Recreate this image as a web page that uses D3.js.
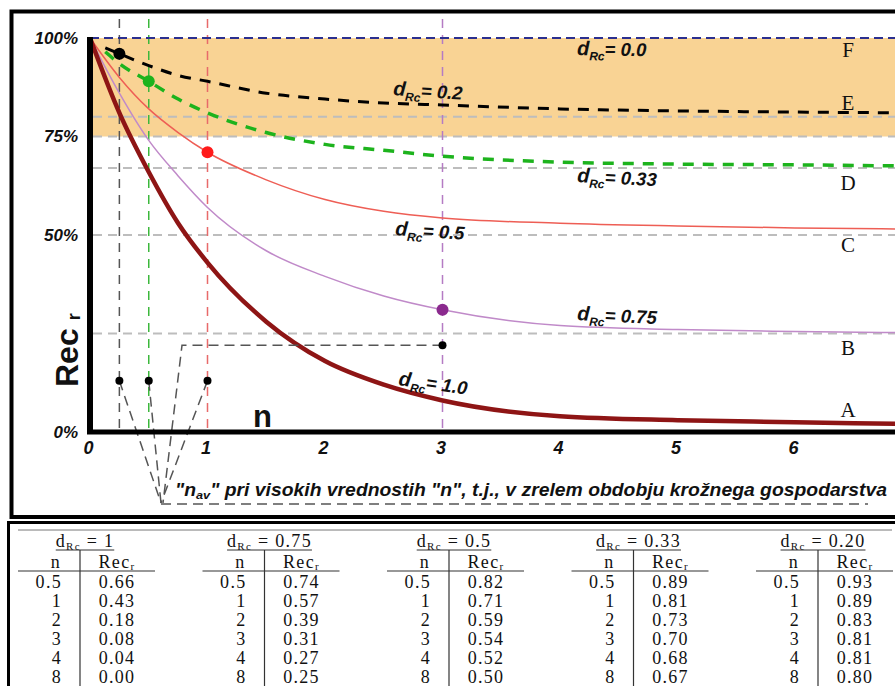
<!DOCTYPE html>
<html>
<head>
<meta charset="utf-8">
<script src="https://cdn.jsdelivr.net/npm/d3@7"></script>
<style>
  html, body { margin: 0; padding: 0; background: #fff; }
  svg { display: block; }
</style>
</head>
<body>
<script>
const WIDTH = 895;
const HEIGHT = 686;

// curves
const nSolid = [0, 0.25, 0.5, 0.75, 1, 1.5, 2, 2.5, 3, 4, 5, 6, 7];
const recD100 = [1.00, 0.81, 0.66, 0.53, 0.43, 0.28, 0.18, 0.12, 0.08, 0.04, 0.03, 0.025, 0.02];
const recD075 = [1.00, 0.86, 0.74, 0.65, 0.57, 0.46, 0.395, 0.345, 0.31, 0.27, 0.26, 0.255, 0.252];
const recD050 = [1.00, 0.90, 0.82, 0.76, 0.71, 0.64, 0.59, 0.56, 0.543, 0.53, 0.523, 0.518, 0.515];
const nDashed = [0.13, 0.25, 0.5, 0.75, 1, 1.5, 2, 2.5, 3, 4, 5, 6, 7];
const recD033 = [0.965, 0.935, 0.89, 0.845, 0.81, 0.76, 0.73, 0.715, 0.70, 0.685, 0.68, 0.678, 0.675];
const recD020 = [0.975, 0.96, 0.93, 0.905, 0.89, 0.86, 0.845, 0.835, 0.83, 0.82, 0.815, 0.812, 0.81];

// reference levels A..F
const levelNames = ["F", "E", "D", "C", "B", "A"];
const levelValues = [1.0, 0.80, 0.67, 0.50, 0.25, 0.0];
const grayLevels = [0.80, 0.75, 0.67, 0.50, 0.25];

// marked points
const markN = [0.25, 0.5, 1, 3];
const markRec = [0.96, 0.89, 0.71, 0.31];
const markColors = ["#000000", "#1db31d", "#ff1a1a", "#8b2a8e"];
const guideColors = ["#555555", "#3cb83c", "#e86a6a", "#b57bc4"];
const navN = [0.25, 0.5, 1];
const navRec = 0.13;
const highN = 3;
const highRec = 0.22;

// table
const tableD = ["1", "0.75", "0.5", "0.33", "0.20"];
const tableN = ["0.5", "1", "2", "3", "4", "8"];
const tableRec = [
  ["0.66", "0.43", "0.18", "0.08", "0.04", "0.00"],
  ["0.74", "0.57", "0.39", "0.31", "0.27", "0.25"],
  ["0.82", "0.71", "0.59", "0.54", "0.52", "0.50"],
  ["0.89", "0.81", "0.73", "0.70", "0.68", "0.67"],
  ["0.93", "0.89", "0.83", "0.81", "0.81", "0.80"]
];

const SANS = "Liberation Sans, Arial, sans-serif";
const SERIF = "Liberation Serif, Times New Roman, serif";

const svg = d3.select("body").append("svg")
  .attr("width", WIDTH)
  .attr("height", HEIGHT);

const x = d3.scaleLinear().domain([0, 7]).range([90, 912.5]);
const y = d3.scaleLinear().domain([0, 1]).range([432, 38]);
const xEnd = WIDTH;

// frame
svg.append("rect")
  .attr("x", 11.5).attr("y", 11.5)
  .attr("width", 920).attr("height", 505.5)
  .attr("fill", "none").attr("stroke", "#000").attr("stroke-width", 4);

// orange band 75..100 %
svg.append("rect")
  .attr("x", x(0)).attr("y", y(1))
  .attr("width", xEnd - x(0)).attr("height", y(0.75) - y(1))
  .attr("fill", "#f9d394");

// gray dashed levels
svg.append("g").selectAll("line")
  .data(grayLevels)
  .join("line")
  .attr("x1", x(0) + 3).attr("x2", xEnd)
  .attr("y1", d => y(d)).attr("y2", d => y(d))
  .attr("stroke", "#bdbdbd").attr("stroke-width", 2)
  .attr("stroke-dasharray", "9,6");

// vertical guides
svg.append("g").selectAll("line")
  .data(markN)
  .join("line")
  .attr("x1", d => x(d)).attr("x2", d => x(d))
  .attr("y1", 19).attr("y2", y(0))
  .attr("stroke", (d, i) => guideColors[i]).attr("stroke-width", 1.5)
  .attr("stroke-dasharray", "9,7");

// d = 0.0 line
svg.append("line")
  .attr("x1", x(0)).attr("x2", xEnd)
  .attr("y1", y(1)).attr("y2", y(1))
  .attr("stroke", "#2b2f8f").attr("stroke-width", 2)
  .attr("stroke-dasharray", "9,5");

const line = d3.line()
  .x(d => x(d[0]))
  .y(d => y(d[1]))
  .curve(d3.curveMonotoneX);

const series = [
  {n: nSolid, v: recD050, color: "#ee5e55", width: 1.5, dash: null},
  {n: nSolid, v: recD075, color: "#c08ac9", width: 1.5, dash: null},
  {n: nSolid, v: recD100, color: "#8e1515", width: 4.5, dash: null},
  {n: nDashed, v: recD033, color: "#1db31d", width: 3.5, dash: "11,9"},
  {n: nDashed, v: recD020, color: "#000000", width: 3, dash: "11,9"}
];

svg.append("g").selectAll("path")
  .data(series)
  .join("path")
  .attr("d", s => line(d3.zip(s.n, s.v)))
  .attr("fill", "none")
  .attr("stroke", s => s.color)
  .attr("stroke-width", s => s.width)
  .attr("stroke-dasharray", s => s.dash);

// marked points
svg.append("g").selectAll("circle")
  .data(markN)
  .join("circle")
  .attr("cx", d => x(d))
  .attr("cy", (d, i) => y(markRec[i]))
  .attr("r", 6)
  .attr("fill", (d, i) => markColors[i]);

// "n_av" annotation
const apex = [161, 503];
const ann = svg.append("g")
  .attr("fill", "none").attr("stroke", "#555").attr("stroke-width", 1.5)
  .attr("stroke-dasharray", "10,6");
navN.forEach(n => {
  ann.append("line")
    .attr("x1", x(n)).attr("y1", y(navRec))
    .attr("x2", apex[0]).attr("y2", apex[1]);
});
ann.append("path")
  .attr("d", d3.line()([[x(highN), y(highRec)], [182, y(highRec)], [163, apex[1]]]));
ann.append("line")
  .attr("x1", apex[0]).attr("y1", apex[1] + 1)
  .attr("x2", 868).attr("y2", apex[1] + 1);

svg.append("g").selectAll("circle")
  .data(navN.map(n => [n, navRec]).concat([[highN, highRec]]))
  .join("circle")
  .attr("cx", d => x(d[0])).attr("cy", d => y(d[1]))
  .attr("r", 4).attr("fill", "#000");

// axes lines
svg.append("line")
  .attr("x1", x(0)).attr("x2", x(0))
  .attr("y1", y(1) - 1).attr("y2", y(0) + 2)
  .attr("stroke", "#000").attr("stroke-width", 6);
svg.append("line")
  .attr("x1", x(0) - 3).attr("x2", xEnd)
  .attr("y1", y(0)).attr("y2", y(0))
  .attr("stroke", "#000").attr("stroke-width", 5);

// tick labels
const yAxis = svg.append("g")
  .attr("transform", `translate(${x(0)},0)`)
  .call(d3.axisLeft(y).tickValues([0, 0.5, 0.75, 1]).tickFormat(d3.format(".0%")).tickSize(0).tickPadding(12));
const xAxis = svg.append("g")
  .attr("transform", `translate(0,${y(0)})`)
  .call(d3.axisBottom(x).tickValues([0, 1, 2, 3, 4, 5, 6]).tickFormat(d3.format("d")).tickSize(0).tickPadding(9));
[xAxis, yAxis].forEach(a => {
  a.select(".domain").remove();
  a.selectAll("text")
    .attr("font-family", SANS).attr("font-size", 17)
    .attr("font-weight", "bold").attr("font-style", "italic")
    .attr("fill", "#111");
});
xAxis.selectAll("text").attr("font-size", 18).attr("dx", -2);

// axis titles
const recLabel = svg.append("text")
  .attr("transform", "translate(78,387) rotate(-90)")
  .attr("font-family", SANS).attr("font-weight", "bold").attr("fill", "#111");
recLabel.append("tspan").attr("font-size", 32).text("Rec");
recLabel.append("tspan").attr("font-size", 18).attr("dx", 8).attr("dy", 2).text("r");

svg.append("text")
  .attr("x", 253).attr("y", 427)
  .attr("font-family", SANS).attr("font-weight", "bold")
  .attr("font-size", 31).attr("fill", "#111")
  .text("n");

// curve labels
const curveLabels = [
  {v: "0.0", x: 577, y: 55, a: 1},
  {v: "0.2", x: 393, y: 95, a: 4},
  {v: "0.33", x: 577, y: 182, a: 3},
  {v: "0.5", x: 395, y: 235, a: 4},
  {v: "0.75", x: 577, y: 320, a: 3},
  {v: "1.0", x: 398, y: 385, a: 8}
];
const cl = svg.append("g").selectAll("text")
  .data(curveLabels)
  .join("text")
  .attr("transform", d => `translate(${d.x},${d.y}) rotate(${d.a})`)
  .attr("font-family", SANS).attr("font-weight", "bold").attr("font-style", "italic")
  .attr("fill", "#111");
cl.append("tspan").attr("font-size", 20).text("d");
cl.append("tspan").attr("font-size", 12).attr("dy", 5).text("Rc");
cl.append("tspan").attr("font-size", 18.5).attr("dy", -5).text(d => "= " + d.v);

// level letters
svg.append("g").selectAll("text")
  .data(levelNames)
  .join("text")
  .attr("x", 848)
  .attr("y", (d, i) => [57, 110, 190, 252, 355, 417][i])
  .attr("text-anchor", "middle")
  .attr("font-family", SERIF).attr("font-size", 21).attr("fill", "#111")
  .text(d => d);

// bottom note
const note = svg.append("text")
  .attr("x", 175).attr("y", 496)
  .attr("textLength", 712).attr("lengthAdjust", "spacingAndGlyphs")
  .attr("font-family", SANS).attr("font-weight", "bold").attr("font-style", "italic")
  .attr("font-size", 17.5).attr("fill", "#111");
note.append("tspan").text("\"n");
note.append("tspan").attr("font-size", 11.5).attr("dy", 3).text("av");
note.append("tspan").attr("dy", -3).text("\" pri visokih vrednostih \"n\", t.j., v zrelem obdobju krožnega gospodarstva");

// table
svg.append("line")
  .attr("x1", 7).attr("x2", WIDTH).attr("y1", 522.5).attr("y2", 522.5)
  .attr("stroke", "#000").attr("stroke-width", 3);
svg.append("line")
  .attr("x1", 8.5).attr("x2", 8.5).attr("y1", 521).attr("y2", HEIGHT)
  .attr("stroke", "#000").attr("stroke-width", 3);
svg.append("line")
  .attr("x1", 18).attr("x2", 892).attr("y1", 530).attr("y2", 530)
  .attr("stroke", "#777").attr("stroke-width", 1);

const STEP = 184.5;
const TS = 18;
const groups = svg.append("g").selectAll("g")
  .data(tableD)
  .join("g")
  .attr("transform", (d, i) => `translate(${i * STEP},0)`)
  .attr("font-family", SERIF).attr("fill", "#111")
  .attr("letter-spacing", 1.3);

const head = groups.append("text")
  .attr("x", 85).attr("y", 547)
  .attr("text-anchor", "middle").attr("font-size", TS);
head.append("tspan").text("d");
head.append("tspan").attr("font-size", 11).attr("dy", 3).text("Rc");
head.append("tspan").attr("dy", -3).text(d => " = " + d);
head.each(function() {
  const b = this.getBBox();
  d3.select(this.parentNode).append("line")
    .attr("x1", b.x).attr("x2", b.x + b.width)
    .attr("y1", 550).attr("y2", 550)
    .attr("stroke", "#333").attr("stroke-width", 1);
});

groups.append("line")
  .attr("x1", 80).attr("x2", 80).attr("y1", 550).attr("y2", HEIGHT)
  .attr("stroke", "#333").attr("stroke-width", 1.2);
groups.append("line")
  .attr("x1", 18).attr("x2", 155).attr("y1", 571).attr("y2", 571)
  .attr("stroke", "#333").attr("stroke-width", 1.2);

groups.append("text")
  .attr("x", 56).attr("y", 568).attr("text-anchor", "middle").attr("font-size", TS)
  .text("n");
const rh = groups.append("text")
  .attr("x", 117).attr("y", 568).attr("text-anchor", "middle").attr("font-size", TS);
rh.append("tspan").text("Rec");
rh.append("tspan").attr("font-size", 11).attr("dy", 2).text("r");

groups.selectAll(".ncell")
  .data(tableN)
  .join("text")
  .attr("class", "ncell")
  .attr("x", 62).attr("y", (d, i) => 587.5 + i * 19)
  .attr("text-anchor", "end").attr("font-size", TS)
  .text(d => d);

groups.selectAll(".rcell")
  .data((d, i) => tableRec[i])
  .join("text")
  .attr("class", "rcell")
  .attr("x", 117).attr("y", (d, i) => 587.5 + i * 19)
  .attr("text-anchor", "middle").attr("font-size", TS)
  .text(d => d);
</script>
</body>
</html>
